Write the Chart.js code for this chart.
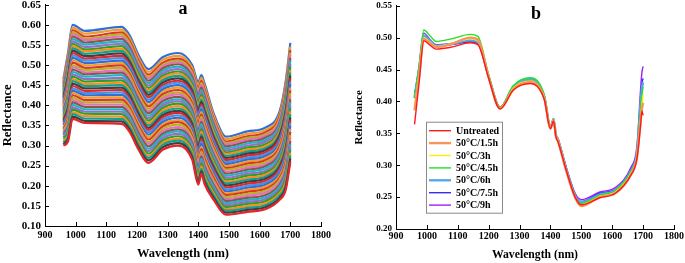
<!DOCTYPE html>
<html>
<head>
<meta charset="utf-8">
<script src="https://cdn.jsdelivr.net/npm/chart.js@4.4.0/dist/chart.umd.min.js"></script>
<style>
  body { margin: 0; background: #fff; }
  #wrap { position: relative; width: 685px; height: 263px; }
  canvas { position: absolute; top: 0; }
  #chartA { left: 0; }
  #chartB { left: 343px; }
</style>
</head>
<body>
<div id="wrap">
  <canvas id="chartA" width="343" height="263"></canvas>
  <canvas id="chartB" width="342" height="263"></canvas>
</div>
<script>
// ---- panel a: raw spectra of all samples ----
const wavelengthsA = [960, 975, 990, 1030, 1150, 1175, 1205, 1237, 1285, 1335, 1380, 1400, 1410, 1420, 1450, 1490, 1560, 1620, 1665, 1685, 1700];
const samplesA = [
  [.300, .310, .366, .356, .354, .335, .290, .257, .290, .300, .265, .203, .230, .205, .165, .128, .135, .142, .165, .190, .260],
  [.304, .316, .372, .361, .360, .341, .296, .263, .296, .306, .271, .209, .236, .211, .170, .133, .140, .147, .170, .197, .268],
  [.308, .321, .378, .367, .366, .347, .302, .269, .302, .312, .277, .216, .242, .218, .176, .138, .145, .152, .176, .204, .275],
  [.312, .326, .383, .373, .372, .353, .308, .274, .307, .317, .283, .222, .248, .224, .181, .142, .150, .157, .181, .210, .282],
  [.317, .332, .389, .379, .378, .359, .314, .280, .313, .323, .289, .229, .255, .230, .187, .147, .155, .162, .187, .217, .290],
  [.321, .337, .395, .384, .384, .365, .320, .286, .319, .329, .295, .235, .261, .236, .192, .152, .160, .167, .192, .224, .297],
  [.325, .343, .401, .390, .390, .371, .325, .292, .325, .335, .300, .241, .267, .243, .197, .157, .165, .172, .198, .231, .304],
  [.329, .348, .407, .396, .396, .377, .331, .298, .330, .340, .306, .247, .273, .249, .202, .162, .170, .177, .203, .237, .311],
  [.333, .354, .413, .402, .402, .383, .337, .304, .336, .346, .312, .254, .279, .255, .208, .167, .175, .183, .209, .244, .319],
  [.337, .360, .419, .407, .408, .389, .343, .309, .342, .352, .318, .260, .285, .261, .213, .172, .180, .188, .215, .251, .326],
  [.341, .365, .425, .413, .414, .395, .349, .315, .348, .358, .324, .267, .291, .268, .219, .177, .185, .193, .220, .258, .334],
  [.345, .370, .430, .419, .420, .401, .355, .321, .353, .363, .330, .273, .297, .274, .224, .181, .190, .198, .225, .264, .341],
  [.350, .376, .436, .425, .426, .407, .361, .327, .359, .369, .336, .280, .304, .280, .230, .186, .195, .203, .231, .271, .349],
  [.354, .381, .442, .430, .432, .413, .366, .333, .365, .375, .341, .286, .310, .286, .235, .191, .200, .208, .236, .278, .356],
  [.358, .387, .448, .436, .438, .419, .372, .339, .371, .381, .347, .292, .316, .293, .240, .196, .205, .213, .242, .285, .363],
  [.362, .393, .454, .442, .444, .425, .378, .344, .376, .386, .353, .298, .322, .299, .245, .201, .210, .218, .247, .291, .370],
  [.366, .398, .460, .448, .450, .431, .384, .350, .382, .392, .359, .305, .328, .305, .251, .206, .215, .223, .253, .298, .378],
  [.370, .403, .465, .453, .456, .437, .390, .356, .388, .398, .365, .311, .334, .311, .256, .210, .220, .228, .258, .305, .385],
  [.374, .409, .471, .459, .462, .443, .396, .362, .394, .404, .371, .318, .340, .318, .262, .215, .225, .233, .264, .312, .393],
  [.378, .414, .477, .465, .468, .449, .402, .368, .400, .410, .377, .324, .346, .324, .267, .220, .230, .238, .269, .318, .400],
  [.383, .420, .483, .471, .475, .455, .408, .374, .405, .415, .383, .331, .353, .330, .273, .225, .235, .244, .275, .325, .408],
  [.387, .426, .489, .477, .481, .461, .414, .380, .411, .421, .389, .337, .359, .336, .278, .230, .240, .249, .281, .332, .415],
  [.391, .431, .495, .482, .487, .467, .419, .385, .417, .427, .394, .343, .365, .343, .283, .235, .245, .254, .286, .339, .422],
  [.395, .437, .500, .488, .493, .473, .425, .391, .422, .432, .400, .349, .371, .349, .289, .240, .250, .259, .291, .345, .430],
  [.399, .442, .506, .493, .499, .479, .431, .397, .428, .438, .406, .356, .377, .355, .294, .244, .255, .264, .297, .352, .437],
  [.403, .447, .512, .499, .505, .485, .437, .402, .434, .444, .412, .362, .383, .361, .299, .249, .260, .269, .302, .359, .444],
  [.407, .453, .518, .505, .511, .491, .443, .408, .440, .450, .418, .369, .389, .368, .305, .254, .265, .274, .308, .366, .452],
  [.411, .458, .524, .511, .517, .497, .449, .414, .446, .456, .424, .375, .396, .374, .310, .259, .270, .279, .313, .372, .459],
  [.416, .464, .530, .516, .523, .503, .455, .420, .451, .461, .430, .382, .402, .380, .316, .264, .275, .284, .319, .379, .467],
  [.420, .470, .536, .522, .529, .509, .461, .426, .457, .467, .436, .388, .408, .386, .321, .269, .280, .289, .325, .386, .474],
  [.424, .475, .542, .528, .535, .515, .466, .432, .463, .473, .441, .394, .414, .393, .326, .274, .285, .294, .330, .393, .481],
  [.428, .481, .548, .534, .541, .521, .472, .438, .469, .479, .447, .400, .420, .399, .332, .279, .290, .299, .336, .400, .488],
  [.432, .486, .553, .539, .547, .527, .478, .443, .474, .484, .453, .407, .426, .405, .337, .283, .295, .304, .341, .406, .496],
  [.436, .492, .559, .545, .553, .533, .484, .449, .480, .490, .459, .413, .432, .411, .342, .288, .300, .310, .346, .413, .503],
  [.440, .497, .565, .551, .559, .539, .490, .455, .486, .496, .465, .420, .438, .418, .348, .293, .305, .315, .352, .420, .511],
  [.445, .502, .571, .556, .565, .545, .496, .461, .492, .502, .471, .426, .444, .424, .353, .298, .310, .320, .357, .426, .518],
  [.449, .508, .577, .562, .571, .551, .502, .467, .497, .507, .477, .433, .451, .430, .359, .303, .315, .325, .363, .433, .526],
  [.452, .512, .582, .566, .576, .556, .506, .471, .501, .511, .481, .438, .455, .435, .363, .306, .319, .329, .367, .438, .531],
  [.455, .517, .586, .571, .581, .561, .511, .476, .506, .516, .486, .443, .460, .440, .367, .310, .323, .333, .372, .444, .537],
  [.460, .523, .593, .578, .588, .568, .518, .483, .513, .523, .493, .450, .468, .448, .374, .316, .329, .339, .378, .452, .546],
  [.465, .530, .600, .585, .595, .575, .525, .490, .520, .530, .500, .458, .475, .455, .380, .322, .335, .345, .385, .460, .555]
];
const yTicksA = [0.10, 0.15, 0.20, 0.25, 0.30, 0.35, 0.40, 0.45, 0.50, 0.55, 0.60, 0.65];

// ---- panel b: mean spectra per treatment ----
const wavelengthsB = [960, 975, 990, 1010, 1030, 1080, 1140, 1165, 1200, 1237, 1280, 1335, 1380, 1400, 1410, 1418, 1425, 1450, 1480, 1500, 1560, 1610, 1660, 1680, 1692, 1696, 1700];
const treatments = ['Untreated', '50°C/1.5h', '50°C/3h', '50°C/4.5h', '50°C/6h', '50°C/7.5h', '50°C/9h'];
const reflUntreated = [.364, .430, .495, .488, .482, .485, .492, .489, .436, .388, .418, .428, .403, .357, .369, .344, .336, .294, .250, .238, .249, .256, .284, .310, .363, .385, .378];
const refl1_5h = [.386, .440, .498, .491, .485, .490, .500, .497, .438, .389, .419, .430, .405, .358, .370, .345, .337, .293, .249, .236, .250, .256, .285, .312, .370, .388, .398];
const refl3h   = [.392, .445, .500, .493, .486, .491, .498, .495, .438, .389, .421, .432, .406, .359, .371, .346, .338, .294, .249, .238, .251, .258, .287, .314, .375, .395, .410];
const refl4_5h = [.405, .455, .512, .503, .494, .498, .505, .502, .442, .391, .425, .437, .410, .360, .372, .347, .339, .295, .251, .240, .253, .260, .290, .318, .390, .410, .423];
const refl6h   = [.405, .452, .503, .495, .487, .490, .496, .493, .439, .390, .423, .435, .408, .360, .372, .347, .339, .296, .252, .242, .254, .261, .291, .320, .398, .420, .430];
const refl7_5h = [.410, .453, .503, .494, .486, .489, .493, .491, .438, .390, .422, .432, .407, .360, .372, .347, .340, .297, .253, .243, .256, .262, .293, .322, .402, .428, .436];
const refl9h   = [.408, .455, .507, .497, .489, .491, .495, .493, .439, .391, .423, .433, .408, .361, .373, .348, .341, .299, .256, .246, .258, .265, .296, .330, .420, .445, .455];
const yTicksB = [0.20, 0.25, 0.30, 0.35, 0.40, 0.45, 0.50, 0.55];

const xTicks = [900, 1000, 1100, 1200, 1300, 1400, 1500, 1600, 1700, 1800];

// styles
const paletteA = ['#e3262b', '#404040', '#13a090', '#ff8c1a', '#2ca02c', '#9a6cc8', '#1fb5c4', '#8c564b', '#e46fbf', '#b5b51f', '#d9372a', '#f29b30', '#2f6fd6', '#4d8fe0'];
const colorsB = ['#ff1a1a', '#f5955a', '#ffee00', '#22e022', '#55a8f0', '#3a2cf0', '#a020f0'];
const widthsB = [1.4, 2.4, 1.4, 1.4, 2.4, 1.4, 1.4];

const serif = '"Liberation Serif", "Times New Roman", serif';

const inwardTicks = {
  id: 'inwardTicks',
  afterDraw(chart) {
    const ctx = chart.ctx, area = chart.chartArea;
    const xs = chart.scales.x, ys = chart.scales.y;
    ctx.save();
    ctx.strokeStyle = '#000';
    ctx.lineWidth = 1;
    ctx.beginPath();
    xs.ticks.forEach(t => {
      const px = Math.round(xs.getPixelForValue(t.value)) + 0.5;
      ctx.moveTo(px, area.bottom);
      ctx.lineTo(px, area.bottom - 4);
    });
    ys.ticks.forEach(t => {
      const py = Math.round(ys.getPixelForValue(t.value)) + 0.5;
      ctx.moveTo(area.left, py);
      ctx.lineTo(area.left + 4, py);
    });
    ctx.stroke();
    ctx.restore();
  }
};

const panelLabel = {
  id: 'panelLabel',
  afterDraw(chart, args, opts) {
    const ctx = chart.ctx;
    ctx.save();
    ctx.font = 'bold 18px ' + serif;
    ctx.fillStyle = '#000';
    ctx.textAlign = 'center';
    ctx.textBaseline = 'alphabetic';
    ctx.fillText(opts.text, opts.x, opts.y);
    ctx.restore();
  }
};

const boxLegend = {
  id: 'boxLegend',
  afterDraw(chart, args, opts) {
    if (!opts.show) return;
    const ctx = chart.ctx, area = chart.chartArea;
    const ds = chart.data.datasets;
    const left = area.left + 30, top = area.top + 116, rowH = 12.4;
    ctx.save();
    ctx.font = 'bold 10px ' + serif;
    const textW = Math.max(...ds.map(d => ctx.measureText(d.label).width));
    const w = Math.round(30 + textW + 3), h = Math.round(rowH * ds.length + 4);
    ctx.fillStyle = '#fff';
    ctx.fillRect(left, top, w, h);
    ctx.strokeStyle = '#8a8a8a';
    ctx.lineWidth = 1;
    ctx.strokeRect(left + 0.5, top + 0.5, w, h);
    ctx.textBaseline = 'middle';
    ds.forEach((d, i) => {
      const cy = top + 9 + i * rowH;
      ctx.strokeStyle = d.borderColor;
      ctx.lineWidth = d.borderWidth;
      ctx.beginPath();
      ctx.moveTo(left + 3, cy);
      ctx.lineTo(left + 25, cy);
      ctx.stroke();
      ctx.fillStyle = '#000';
      ctx.fillText(d.label, left + 30, cy + 0.5);
    });
    ctx.restore();
  }
};

function axes(yMin, yMax, yTicks, yWidth, xHeight, yFont, yTitleFont, xTitleFont, yTitlePad, xTitlePad, topPad, xTickPad) {
  return {
    x: {
      type: 'linear', min: 900, max: 1800,
      afterBuildTicks: s => { s.ticks = xTicks.map(v => ({ value: v })); },
      afterFit: s => { s.height = xHeight; },
      grid: { display: false, drawTicks: false },
      border: { color: '#000', width: 1 },
      ticks: { color: '#000', padding: xTickPad, maxRotation: 0, font: { family: serif, weight: 'bold', size: 10 }, callback: v => v },
      title: { display: true, text: 'Wavelength (nm)', color: '#000', padding: { top: 0, bottom: xTitlePad }, font: { family: serif, weight: 'bold', size: xTitleFont } }
    },
    y: {
      type: 'linear', min: yMin, max: yMax,
      afterBuildTicks: s => { s.ticks = yTicks.map(v => ({ value: v })); },
      afterFit: s => { s.width = yWidth; s.paddingTop = topPad; s.paddingBottom = 0; },
      grid: { display: false, drawTicks: false },
      border: { color: '#000', width: 1 },
      ticks: { color: '#000', padding: 4, font: { family: serif, weight: 'bold', size: yFont }, callback: v => v.toFixed(2) },
      title: { display: true, text: 'Reflectance', color: '#000', padding: { top: yTitlePad, bottom: 0 }, font: { family: serif, weight: 'bold', size: yTitleFont } }
    }
  };
}

new Chart(document.getElementById('chartA'), {
  type: 'line',
  data: {
    datasets: samplesA.map((s, i) => ({
      label: 'sample ' + (i + 1),
      data: wavelengthsA.map((w, j) => ({ x: w, y: s[j] })),
      borderColor: paletteA[i % paletteA.length],
      borderWidth: 2.2,
      pointRadius: 0,
      cubicInterpolationMode: 'monotone',
      fill: false
    }))
  },
  options: {
    responsive: false,
    animation: false,
    layout: { padding: { left: 0, right: 22, top: 0, bottom: 0 } },
    plugins: {
      legend: { display: false },
      tooltip: { enabled: false },
      panelLabel: { text: 'a', x: 183, y: 13.5 },
      boxLegend: { show: false }
    },
    scales: axes(0.10, 0.65, yTicksA, 45, 37, 11, 12.5, 12.5, 0, 2, 4.7, 3)
  },
  plugins: [inwardTicks, panelLabel, boxLegend]
});

const seriesB = [reflUntreated, refl1_5h, refl3h, refl4_5h, refl6h, refl7_5h, refl9h];
new Chart(document.getElementById('chartB'), {
  type: 'line',
  data: {
    datasets: seriesB.map((s, i) => ({
      label: treatments[i],
      data: wavelengthsB.map((w, j) => ({ x: w, y: s[j] })),
      borderColor: colorsB[i],
      borderWidth: widthsB[i],
      pointRadius: 0,
      cubicInterpolationMode: 'monotone',
      fill: false
    }))
  },
  options: {
    responsive: false,
    animation: false,
    layout: { padding: { left: 0, right: 10, top: 0, bottom: 0 } },
    plugins: {
      legend: { display: false },
      tooltip: { enabled: false },
      panelLabel: { text: 'b', x: 193, y: 19.3 },
      boxLegend: { show: true }
    },
    scales: axes(0.20, 0.55, yTicksB, 53, 34, 9, 11, 11.7, 10, 1, 5.7, 1)
  },
  plugins: [inwardTicks, panelLabel, boxLegend]
});
</script>
</body>
</html>
